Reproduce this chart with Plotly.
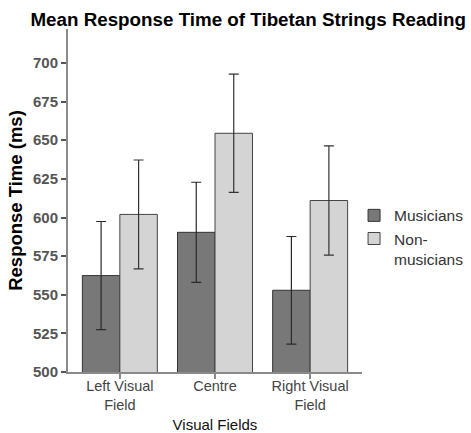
import plotly.graph_objects as go

categories = ["Left Visual<br>Field", "Centre", "Right Visual<br>Field"]
musicians_mean = [562.4, 590.4, 552.9]
musicians_err = [35.0, 32.4, 34.8]
nonmus_mean = [602.0, 654.5, 611.0]
nonmus_err = [35.2, 38.3, 35.4]
y_ticks = [500, 525, 550, 575, 600, 625, 650, 675, 700]

FONT = "Liberation Sans, Arial, Helvetica, sans-serif"

fig = go.Figure()
fig.add_trace(go.Bar(
    x=categories, y=musicians_mean, name="Musicians",
    marker=dict(color="#787878", line=dict(color="#333333", width=1)),
    error_y=dict(type="data", array=musicians_err, visible=True,
                 color="#2a2a2a", thickness=1.2, width=5),
))
fig.add_trace(go.Bar(
    x=categories, y=nonmus_mean, name="Non-<br>musicians",
    marker=dict(color="#d4d4d4", line=dict(color="#444444", width=1)),
    error_y=dict(type="data", array=nonmus_err, visible=True,
                 color="#333333", thickness=1.2, width=5),
))

fig.update_layout(
    width=471, height=433,
    margin=dict(l=67.5, r=109.3, t=29, b=61.3, autoexpand=False),
    paper_bgcolor="white", plot_bgcolor="white",
    barmode="group", bargap=0.212, bargroupgap=0,
    font=dict(family=FONT, color="#000000"),
    title=dict(text="<b>Mean Response Time of Tibetan Strings Reading</b>",
               x=0.527, xanchor="center", xref="container",
               y=0.956, yanchor="middle", yref="container",
               font=dict(size=18.8, color="#000000", family=FONT)),
    legend=dict(x=0.973, xanchor="left", y=0.505, yanchor="top",
                font=dict(size=15.5, color="#333333", family=FONT),
                itemwidth=30, valign="top", tracegroupgap=2,
                bgcolor="rgba(0,0,0,0)"),
    xaxis=dict(
        type="category", range=[-0.545, 2.545], automargin=False,
        showline=True, linecolor="#8a8a8a", linewidth=2,
        ticks="outside", ticklen=5, tickcolor="#8a8a8a", tickwidth=1.5,
        ticklabelstandoff=-5,
        tickfont=dict(size=14.5, color="#444444", family=FONT),
        showgrid=False, zeroline=False,
        title=dict(text="Visual Fields", standoff=8,
                   font=dict(size=15, color="#111111", family=FONT)),
    ),
    yaxis=dict(
        range=[500, 722], automargin=False,
        tickvals=y_ticks, ticktext=[f"<b>{v}</b>" for v in y_ticks],
        showline=True, linecolor="#8a8a8a", linewidth=2,
        ticks="outside", ticklen=5, tickcolor="#555555", tickwidth=1.5,
        tickfont=dict(size=15, color="#555555", family=FONT),
        showgrid=False, zeroline=False,
        title=dict(text="<b>Response Time (ms)</b>", standoff=5,
                   font=dict(size=18.5, color="#000000", family=FONT)),
    ),
)

fig.write_html(
    "out.html",
    config={"displayModeBar": False},
    post_script="document.body.style.margin='0';document.body.style.overflow='hidden';",
)
